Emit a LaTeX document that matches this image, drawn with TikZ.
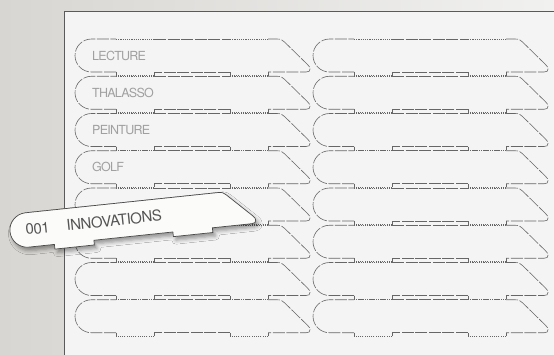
\documentclass[tikz,border=0pt]{standalone}
\usepackage{fontspec}
\newfontfamily\tabfont[LetterSpace=-6]{TeX Gyre Heros}
\newfontfamily\tagfont[LetterSpace=-3]{TeX Gyre Heros}
\usetikzlibrary{shadows.blur}
\definecolor{bgl}{HTML}{D8D6D2}
\definecolor{bgr}{HTML}{F1F1F0}
\definecolor{sheet}{HTML}{F3F4F3}
\definecolor{sheetline}{HTML}{5A5A5A}
\definecolor{cutline}{HTML}{666666}
\definecolor{tabtext}{HTML}{A0A0A0}
\definecolor{tagtext}{HTML}{555555}
\definecolor{tagfill}{HTML}{FBFBFA}
\definecolor{tagline}{HTML}{4A4A4A}
\tikzset{
  cutdash/.style={draw=cutline, line width=0.6pt, dash pattern=on 12pt off 1.6pt},
  cutdot/.style={draw=cutline, line width=0.6pt, dash pattern=on 1.1pt off 1.1pt},
  cutstep/.style={draw=cutline, line width=0.6pt},
  tablabel/.style={anchor=west, font=\tabfont\fontsize{12.5}{14}\selectfont, text=tabtext, inner sep=0pt},
  taglabel/.style={anchor=base west, rotate=6, font=\tagfont\fontsize{15}{17}\selectfont, text=tagtext, inner sep=0pt},
}
\newcommand\cuttab[2]{%
  \begin{scope}[shift={(#1,#2)}]
    \draw[cutdash] (41,33) -- (16.5,33) .. controls (7.4,33) and (0,25.6) .. (0,16.5)
      .. controls (0,7.4) and (7.4,0) .. (16.5,0) -- (41,0);
    \draw[cutdot] (41,0) -- (79,0);
    \draw[cutdash] (79,0) -- (155,0);
    \draw[cutdot] (155,0) -- (193,0);
    \draw[cutdash] (193,0) -- (202,0) .. controls (206,0) and (207.5,1) .. (209.5,3)
      -- (232.5,25.5) .. controls (234.5,27.5) and (235,28.5) .. (235,30)
      .. controls (235,32) and (234,33) .. (231,33) -- (193,33);
    \draw[cutstep] (193,33) -- (193,36.5);
    \draw[cutdot] (193,36.5) -- (155,36.5);
    \draw[cutstep] (155,36.5) -- (155,33);
    \draw[cutdash] (155,33) -- (79,33);
    \draw[cutstep] (79,33) -- (79,36.5);
    \draw[cutdot] (79,36.5) -- (41,36.5);
    \draw[cutstep] (41,36.5) -- (41,33);
  \end{scope}}
\begin{document}
\begin{tikzpicture}[x=1pt,y=-1pt]
  \useasboundingbox (0,0) rectangle (554,354);
  \shade[left color=bgl, right color=bgr] (0,0) rectangle (554,354);
  \fill[sheet] (64,11) rectangle (570,370);
  \draw[sheetline, line width=1pt] (64,370) -- (64,11) -- (570,11);
  \foreach \k in {0,...,7} {
    \cuttab{75}{39+37.25*\k}
    \cuttab{313}{39+37.25*\k}
  }
  \node[tablabel] (lecture) at (92,55.5) {LECTURE};
  \node[tablabel] (thalasso) at (92,92.75) {THALASSO};
  \node[tablabel] (peinture) at (92,130) {PEINTURE};
  \node[tablabel] (golf) at (92,167.25) {GOLF};
  \begin{scope}[shift={(8.2,214.6)}, rotate=6, scale=1.045]
    \path[fill=tagfill, draw=tagline, line width=0.7pt,
      blur shadow={shadow xshift=2.5pt, shadow yshift=-3.5pt, shadow blur radius=4pt, shadow opacity=40}]
      (16.5,0) -- (202,0) .. controls (206,0) and (207.5,1) .. (209.5,3)
      -- (232.5,25.5) .. controls (234.5,27.5) and (235,28.5) .. (235,30)
      .. controls (235,32) and (234,33) .. (231,33) -- (193,33)
      -- (193,37.5) -- (155,37.5) -- (155,33) -- (79,33) -- (79,37.5) -- (41,37.5) -- (41,33)
      -- (16.5,33) .. controls (7.4,33) and (0,25.6) .. (0,16.5)
      .. controls (0,7.4) and (7.4,0) .. (16.5,0) -- cycle;
  \end{scope}
  \node[taglabel] (num) at (26,235) {001};
  \node[taglabel] (innov) at (67,230.8) {INNOVATIONS};
\end{tikzpicture}
\end{document}
